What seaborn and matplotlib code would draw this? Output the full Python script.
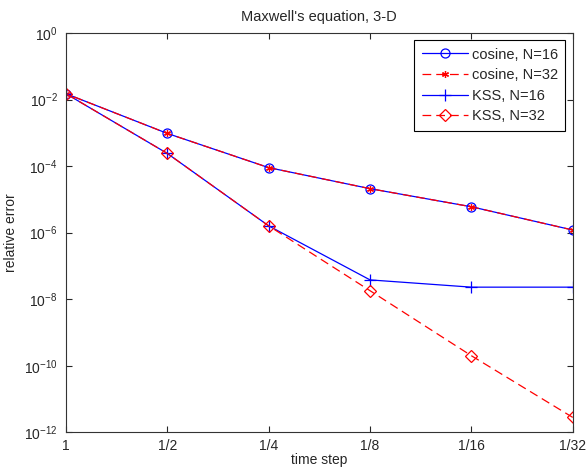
import numpy as np
import pandas as pd
import seaborn as sns
import matplotlib.pyplot as plt

# time steps and relative errors
steps = [1, 1/2, 1/4, 1/8, 1/16, 1/32]
step_labels = ['1', '1/2', '1/4', '1/8', '1/16', '1/32']
cosine_16 = [1.5e-2, 9.6e-4, 9.0e-5, 2.1e-5, 6.0e-6, 1.2e-6]
cosine_32 = [1.5e-2, 9.6e-4, 9.0e-5, 2.1e-5, 6.0e-6, 1.2e-6]
kss_16 = [1.5e-2, 2.4e-4, 1.6e-6, 3.8e-8, 2.3e-8, 2.3e-8]
kss_32 = [1.5e-2, 2.4e-4, 1.6e-6, 1.8e-8, 2.0e-10, 2.8e-12]

sns.set_style("ticks")
plt.rcParams['font.family'] = ['Liberation Sans', 'DejaVu Sans']
plt.rcParams['mathtext.default'] = 'regular'
plt.rcParams['axes.unicode_minus'] = False
plt.rcParams['xtick.direction'] = 'in'
plt.rcParams['ytick.direction'] = 'in'

fig = plt.figure(figsize=(5.87, 4.69), dpi=100)
ax = fig.add_axes([0.1124, 0.0783, 0.8633, 0.8513])

series = [
    ('cosine, N=16', cosine_16, 'blue', '-', 'o', 6.5),
    ('cosine, N=32', cosine_32, 'red', (0, (7, 4)), (6, 2, 0), 5),
    ('KSS, N=16', kss_16, 'blue', '-', '+', 8),
    ('KSS, N=32', kss_32, 'red', (0, (7, 4)), 'D', 6),
]
for name, vals, col, ls, mk, ms in series:
    df = pd.DataFrame({'step': steps, 'err': vals})
    sns.lineplot(data=df, x='step', y='err', ax=ax, color=col, linestyle=ls,
                 marker=mk, markersize=ms, markerfacecolor='none',
                 markeredgecolor=col, markeredgewidth=0.9, linewidth=0.9,
                 label=name)

ax.set_xscale('log')
ax.set_yscale('log')
ax.set_xlim(1, 1/32)
ax.set_ylim(1e-12, 1e0)
ax.set_xticks(steps)
ax.set_xticklabels(step_labels)
yt = [10.0 ** k for k in range(0, -13, -2)]
ax.set_yticks(yt)
ax.set_yticklabels(['$10^{%d}$' % k for k in range(0, -13, -2)])
ax.minorticks_off()
ax.tick_params(which='both', top=True, right=True, labelsize=10, length=4,
               width=0.8, pad=6)
ax.tick_params(axis='x', pad=5)
for s in ax.spines.values():
    s.set_linewidth(0.8)
    s.set_color('#333333')

ax.set_title("Maxwell's equation, 3-D", fontsize=10.5, pad=9)
ax.set_xlabel('time step', fontsize=10, labelpad=0)
ax.set_ylabel('relative error', fontsize=10, labelpad=4)

leg = ax.legend(loc='upper right', fontsize=10.5, handlelength=3.2,
                fancybox=False, framealpha=1, edgecolor='black',
                borderaxespad=0.5, labelspacing=0.45, handletextpad=0.25,
                borderpad=0.5)
leg.get_frame().set_linewidth(0.8)

fig.savefig('out.png', dpi=100)
